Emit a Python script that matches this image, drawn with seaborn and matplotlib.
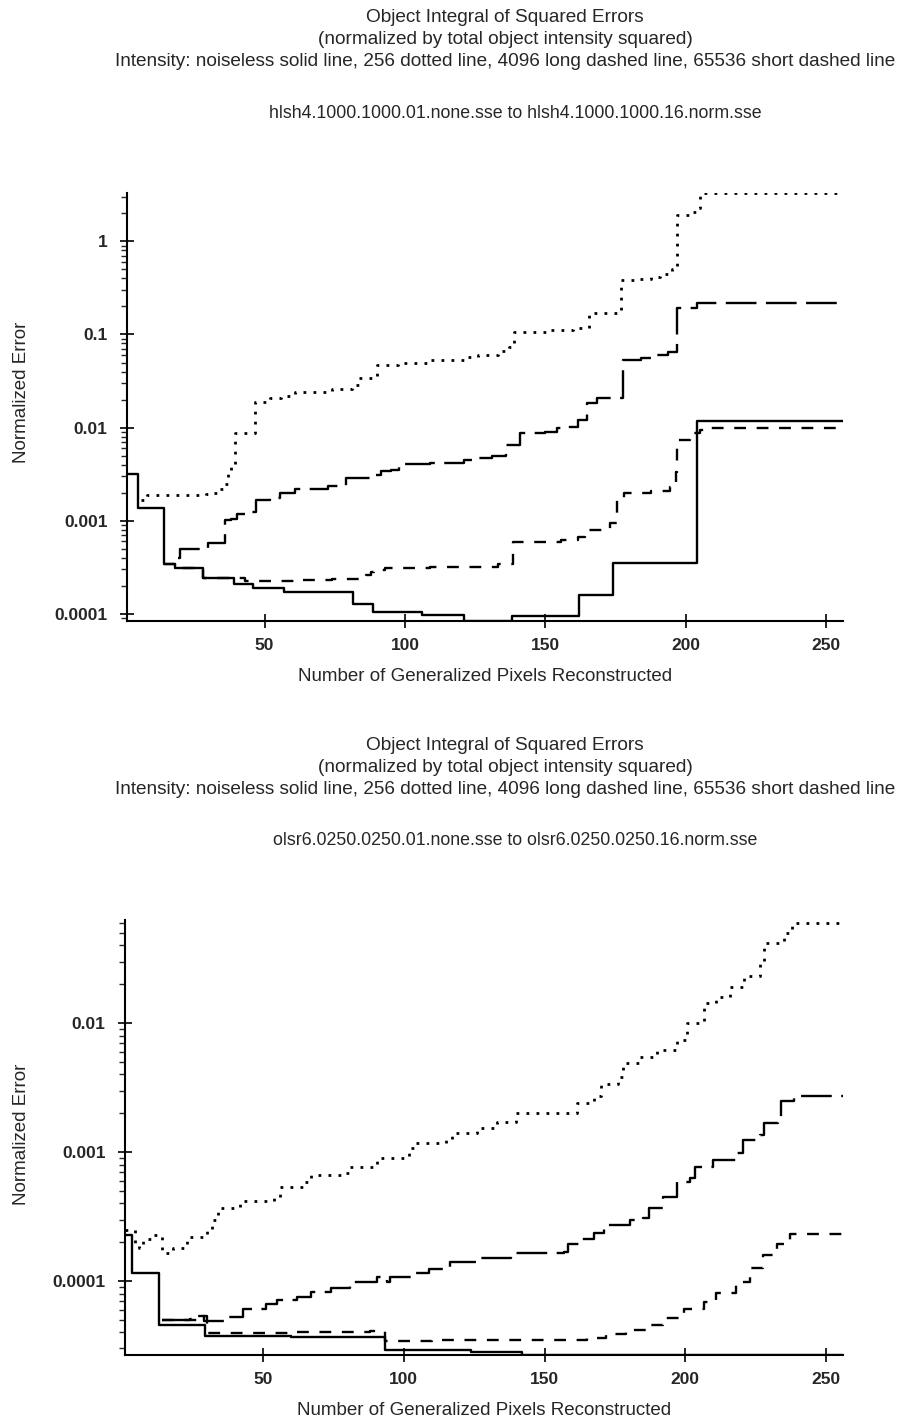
import matplotlib
matplotlib.use("Agg")
import matplotlib.pyplot as plt
import matplotlib.ticker as mticker
import seaborn as sns

# top panel: hlsh4 (step start x, value)
top_solid_x = [1, 5, 14, 18, 28, 39, 46, 57, 81.5, 88.5, 106, 121, 138, 162, 174, 204, 256]
top_solid_y = [0.0032, 0.00138, 0.00034, 0.00031, 0.000243, 0.000208, 0.00019, 0.000171, 0.000128,
               0.000106, 0.0000965, 0.000085, 0.000095, 0.000158, 0.00035, 0.0117, 0.0117]

top_dot_x = [6, 8, 29, 31, 34, 36, 37, 38, 39.5, 46.5, 52, 56, 61, 74, 81, 83.5, 89, 90, 97.5, 109,
             121, 126, 133, 137, 139, 152, 160, 165.5, 177, 182, 187.5, 191, 195, 197, 201.5, 204, 205, 256]
top_dot_y = [0.00167, 0.00187, 0.00195, 0.0020, 0.0022, 0.0025, 0.0035, 0.0040, 0.0088, 0.0188, 0.0206,
             0.022, 0.024, 0.026, 0.029, 0.034, 0.035, 0.047, 0.050, 0.053, 0.057, 0.060, 0.066, 0.073,
             0.106, 0.112, 0.117, 0.168, 0.38, 0.39, 0.41, 0.45, 0.51, 1.9, 2.05, 2.3, 3.27, 3.25]

top_long_x = [19, 20, 30, 36, 38, 40, 43, 47, 52, 55.5, 61, 72.5, 79, 89, 91.5, 95, 98, 109, 121, 126,
              131, 136, 141, 150, 154, 158, 161.5, 165, 168.5, 177.5, 184, 189, 193.5, 197, 204, 256]
top_long_y = [0.0004, 0.0005, 0.000575, 0.00101, 0.00105, 0.00118, 0.00125, 0.00168, 0.00176, 0.0020,
              0.0022, 0.00236, 0.0029, 0.0031, 0.0034, 0.0035, 0.0041, 0.0042, 0.0045, 0.0047, 0.0050,
              0.0065, 0.0087, 0.0089, 0.0098, 0.0101, 0.0121, 0.0183, 0.0206, 0.053, 0.056, 0.060,
              0.065, 0.19, 0.215, 0.22]

top_short_x = [14, 18, 28, 43, 62, 74, 81, 86, 88, 89, 93, 109, 126, 133, 138.5, 155.5, 161.5, 164, 173,
               175.5, 178, 187.5, 194.5, 196.5, 197, 201.5, 205, 208.5, 256]
top_short_y = [0.00034, 0.00031, 0.000243, 0.000228, 0.00023, 0.000235, 0.00024, 0.00026, 0.00028,
               0.000295, 0.00031, 0.000318, 0.00032, 0.00034, 0.00059, 0.00062, 0.00067, 0.00079,
               0.00095, 0.00168, 0.0020, 0.0021, 0.0023, 0.0033, 0.0074, 0.0087, 0.0094, 0.0099, 0.0099]

# bottom panel: olsr6
bot_solid_x = [1, 3.5, 13, 29.5, 60, 93.5, 124, 142, 256]
bot_solid_y = [0.000228, 0.000116, 0.000046, 0.0000373, 0.0000365, 0.000029, 0.000028, 0.0000268, 0.0000268]

bot_dot_x = [1, 3.5, 4.5, 6, 7.5, 11, 13, 14, 18, 23, 30, 32, 34, 42, 54, 56, 64.5, 67, 78.5, 81, 90.5,
             102, 104.5, 115, 117, 126, 133, 140, 157, 161.5, 167.5, 170, 176, 178, 184, 190, 197,
             200.5, 206.5, 211, 216, 221, 226.5, 228, 235, 238, 256]
bot_dot_y = [0.000248, 0.00025, 0.00019, 0.00018, 0.00021, 0.000228, 0.00022, 0.000165, 0.00018,
             0.000218, 0.000248, 0.0003, 0.00037, 0.00042, 0.00044, 0.00054, 0.00059, 0.00066, 0.00069,
             0.00077, 0.0009, 0.00107, 0.00118, 0.00124, 0.0014, 0.00154, 0.00171, 0.0020, 0.0020,
             0.0024, 0.0027, 0.0034, 0.0038, 0.0049, 0.0055, 0.0062, 0.0074, 0.0100, 0.0143, 0.016,
             0.019, 0.023, 0.029, 0.042, 0.050, 0.060, 0.060]

bot_long_x = [14, 24, 27, 29, 38, 43, 51, 55, 62, 67, 74, 81, 90.5, 94, 95, 104.5, 109, 116.5, 126, 138,
              157, 158.5, 163, 167.5, 171, 180.5, 185, 187, 192, 197, 201.5, 203.5, 210, 218, 220.5,
              226.5, 228, 233, 234, 238.5, 256]
bot_long_y = [5.0e-5, 5.1e-5, 5.4e-5, 4.9e-5, 5.3e-5, 6.1e-5, 6.6e-5, 7.1e-5, 7.5e-5, 8.2e-5, 8.8e-5,
              9.8e-5, 1.07e-4, 9.8e-5, 1.07e-4, 1.16e-4, 1.23e-4, 1.40e-4, 1.50e-4, 1.64e-4, 1.67e-4,
              1.95e-4, 2.1e-4, 2.35e-4, 2.7e-4, 3.0e-4, 3.1e-4, 3.7e-4, 4.5e-4, 5.9e-4, 6.3e-4, 7.7e-4,
              8.7e-4, 9.8e-4, 1.24e-3, 1.35e-3, 1.68e-3, 1.87e-3, 2.5e-3, 2.7e-3, 2.7e-3]

bot_short_x = [14, 27, 30, 60, 88, 93.5, 110, 140, 165, 172, 179, 187.5, 192, 199.5, 206.5, 211, 218,
               223, 227.5, 232.5, 237, 256]
bot_short_y = [5.0e-5, 5.4e-5, 3.95e-5, 4.0e-5, 4.1e-5, 3.4e-5, 3.5e-5, 3.5e-5, 3.6e-5, 3.9e-5, 4.2e-5,
               4.6e-5, 5.2e-5, 6.1e-5, 6.9e-5, 8.1e-5, 9.8e-5, 1.26e-4, 1.6e-4, 1.95e-4, 2.3e-4, 2.3e-4]

title_lines = ["Object Integral of Squared Errors",
               "(normalized by total object intensity squared)",
               "Intensity: noiseless solid line, 256 dotted line, 4096 long dashed line, 65536 short dashed line"]
top_file = "hlsh4.1000.1000.01.none.sse to hlsh4.1000.1000.16.norm.sse"
bot_file = "olsr6.0250.0250.01.none.sse to olsr6.0250.0250.16.norm.sse"
x_ticks = [50, 100, 150, 200, 250]
top_yticks = [1, 0.1, 0.01, 0.001, 0.0001]
top_ylabels = ["1", "0.1", "0.01", "0.001", "0.0001"]
bot_yticks = [0.01, 0.001, 0.0001]
bot_ylabels = ["0.01", "0.001", "0.0001"]

sns.set_style("ticks")
plt.rcParams["font.family"] = ["Liberation Sans", "DejaVu Sans"]

fig = plt.figure(figsize=(9.02, 14.27), dpi=100)
W, H = 902, 1427

styles = {
    "solid": dict(ls="-", lw=1.7),
    "dot": dict(ls=(0, (1, 2.6)), lw=2.0),
    "long": dict(ls=(0, (13, 4)), lw=1.7),
    "short": dict(ls=(0, (5, 4.5)), lw=1.7),
}


def panel(box, series, ylim, yticks, ylabels, fname, top_px, ylab_px):
    l, t, r, b = box
    ax = fig.add_axes([l / W, 1 - b / H, (r - l) / W, (b - t) / H])
    for key, xs, ys in series:
        sns.lineplot(x=xs, y=ys, ax=ax, color="black", estimator=None, sort=False,
                     drawstyle="steps-post", **styles[key])
    ax.set_yscale("log")
    ax.set_xlim(1, 256)
    ax.set_ylim(*ylim)
    ax.set_xticks(x_ticks)
    ax.set_xticklabels([str(v) for v in x_ticks], fontweight="bold", fontsize=12.5)
    ax.yaxis.set_major_locator(mticker.FixedLocator(yticks))
    ax.yaxis.set_major_formatter(mticker.FixedFormatter(ylabels))
    ax.yaxis.set_minor_locator(mticker.LogLocator(base=10, subs=range(2, 10), numticks=20))
    ax.yaxis.set_minor_formatter(mticker.NullFormatter())
    for lab in ax.get_yticklabels():
        lab.set_fontweight("bold")
        lab.set_fontsize(12.5)
    ax.tick_params(axis="both", which="major", direction="inout", length=10, width=1.2, color="black")
    ax.tick_params(axis="y", which="minor", direction="out", length=4, width=1.0)
    ax.tick_params(axis="y", which="major", pad=9)
    ax.tick_params(axis="x", which="major", pad=7)
    sns.despine(ax=ax)
    for s in ("left", "bottom"):
        ax.spines[s].set_color("black")
        ax.spines[s].set_linewidth(1.5)
    ax.set_xlabel("Number of Generalized Pixels Reconstructed", fontsize=13.5, labelpad=11)
    ax.set_ylabel("")
    fig.text(22 / W, 1 - ylab_px / H, "Normalized Error", rotation=90,
             ha="center", va="center", fontsize=13.5)
    for i, line in enumerate(title_lines):
        fig.text(505 / W, 1 - (top_px + 22 * i) / H, line, ha="center", va="center", fontsize=13.7)
    fig.text(515 / W, 1 - (top_px + 95) / H, fname, ha="center", va="center", fontsize=12.8)
    return ax


panel((127, 193, 843, 621),
      [("solid", top_solid_x, top_solid_y), ("dot", top_dot_x, top_dot_y),
       ("long", top_long_x, top_long_y), ("short", top_short_x, top_short_y)],
      (8.4e-5, 3.3), top_yticks, top_ylabels, top_file, 18, 392)

panel((125, 920, 843, 1355),
      [("solid", bot_solid_x, bot_solid_y), ("dot", bot_dot_x, bot_dot_y),
       ("long", bot_long_x, bot_long_y), ("short", bot_short_x, bot_short_y)],
      (2.67e-5, 0.063), bot_yticks, bot_ylabels, bot_file, 745, 1134)

fig.savefig("out.png", dpi=100, facecolor="white")
